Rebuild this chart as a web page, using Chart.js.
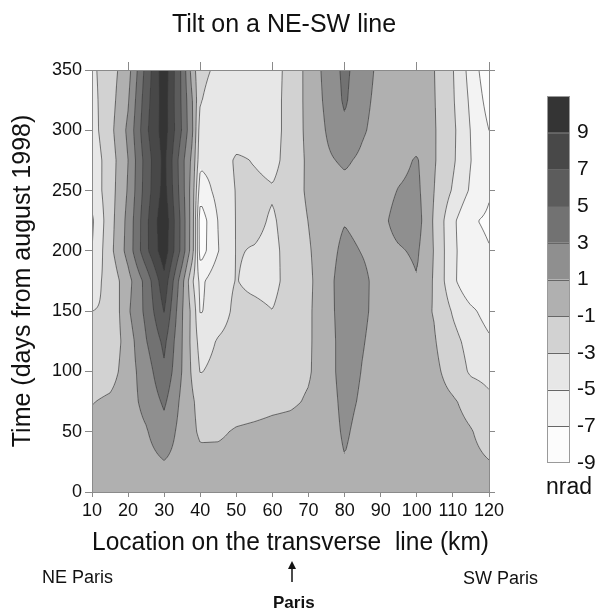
<!DOCTYPE html>
<html>
<head>
<meta charset="utf-8">
<title>Tilt on a NE-SW line</title>
<script src="https://cdn.jsdelivr.net/npm/chart.js@4.4.1/dist/chart.umd.min.js"></script>
<style>
  html, body { margin: 0; padding: 0; background: #fff; }
  #wrap { position: relative; width: 599px; height: 610px; }
</style>
</head>
<body>
<div id="wrap"><canvas id="graficoTilt"></canvas></div>
<script>
// grid nodes (km along the line, days from august 1998)
const kmNodes = [10, 15, 20, 25, 30, 35, 38, 40, 45, 50, 55, 60, 65, 70, 75, 80, 85, 90, 95, 100, 105, 110, 115, 120];
const dayNodes = [0, 25, 50, 75, 100, 125, 150, 175, 200, 225, 250, 275, 300, 325, 350];

// tilt in nrad, one row per entry of dayNodes, one value per entry of kmNodes
const tiltRows = [
  [-0.1, 0, 0, 0.1, 0, 0.1, 0, -0.1, -0.1, -0.1, -0.1, -0.1, 0, 0, 0, 0.3, 0.1, 0, 0, -0.1, -0.2, -0.25, -0.4, -0.6],
  [-0.2, 0, 0.1, 0.4, 0.95, 0.3, 0, -0.3, -0.4, -0.3, -0.2, -0.2, -0.1, 0, 0.1, 0.9, 0.2, 0.1, 0, -0.1, -0.2, -0.3, -0.6, -0.95],
  [-0.3, 0, 0.2, 0.85, 2.2, 0.26, -0.6, -1.4, -1.3, -0.8, -0.6, -0.4, -0.3, -0.1, 0, 1.3, 0.3, 0.1, 0, -0.1, -0.2, -0.4, -0.9, -1.7],
  [-1.1, -0.6, 0.3, 1.54, 3.35, 0.48, -0.8, -1.9, -2.2, -2.0, -1.8, -1.5, -1.3, -0.8, 0, 1.6, 0.69, 0.2, 0, -0.1, -0.3, -0.8, -1.6, -2.6],
  [-2.3, -1.99, 0.16, 1.99, 4.65, 0.9, -1.5, -3.1, -2.5, -2.3, -2.1, -1.9, -1.6, -1.2, 0.1, 1.9, 0.9, 0.3, 0.1, -0.3, -0.6, -1.8, -3.3, -3.6],
  [-2.7, -2.53, 0.02, 2.9, 5.5, 1.0, -1.8, -3.8, -2.85, -2.4, -2.2, -2.0, -1.6, -1.25, 0.1, 1.9, 1.1, 0.3, 0.2, -0.4, -0.9, -2.4, -3.7, -4.7],
  [-3.0, -2.86, 0.72, 3.5, 7.1, 1.1, -1.76, -5.2, -3.8, -2.6, -2.6, -2.97, -2.0, -1.3, 0.3, 1.9, 1.3, 0.4, 0.1, -0.5, -1.1, -3.2, -4.6, -5.8],
  [-3.64, -2.41, 0.3, 3.7, 8.4, 1.6, -3.0, -5.5, -3.6, -2.95, -3.4, -3.6, -2.2, -1.4, 0.3, 2.0, 1.4, 0.3, 0.1, 0.9, -1.3, -4.57, -6.7, -6.5],
  [-5.0, -1.6, 1.74, 6.5, 10.3, 4.2, -0.5, -8.0, -5.05, -2.9, -3.1, -3.4, -2.4, -1.2, 0.2, 1.5, 0.9, 0.3, 0.8, 1.3, -1.2, -4.6, -6.3, -6.9],
  [-5.3, -1.8, 1.6, 6.5, 10.6, 4.2, -0.4, -8.2, -4.9, -2.9, -2.6, -3.2, -2.3, -0.95, 0.2, 0.9, 0.4, 0.5, 1.7, 1.9, -1.4, -4.6, -6.8, -7.3],
  [-4.3, -1.9, 1.2, 6.0, 9.8, 3.8, -0.3, -6.2, -4.3, -2.9, -2.6, -2.85, -2.2, -0.6, 0.1, 0.4, 0.3, 0.2, 1.1, 1.5, -1.1, -3.2, -5.3, -6.8],
  [-4.2, -2.0, 1.0, 5.9, 9.6, 3.6, 0.2, -4.5, -4.2, -2.7, -3.1, -3.5, -2.3, -0.6, 0.7, 1.3, 0.6, 0.2, 0.4, 1.2, -0.9, -2.7, -5.0, -6.6],
  [-3.8, -1.6, 1.4, 6.6, 10.0, 4.8, 1.0, -4.0, -4.3, -4.1, -3.9, -3.6, -2.4, -0.4, 1.1, 2.6, 1.2, 0.3, 0.2, 0, -0.9, -2.6, -5.1, -7.0],
  [-3.6, -1.8, 0.8, 6.2, 10.0, 4.6, 0.8, -2.9, -3.8, -4.0, -4.0, -3.6, -2.4, -0.35, 1.4, 3.3, 1.5, 0.4, 0.2, 0, -0.95, -2.8, -5.4, -7.8],
  [-3.4, -1.9, 0.23, 5.7, 10.3, 4.5, -0.2, -2.6, -3.3, -3.9, -4.0, -3.6, -2.5, -0.3, 1.6, 3.5, 1.8, 0.5, 0.2, -0.2, -1.0, -2.9, -5.8, -8.5]
];

// contour levels and fill colours (lowest band first)
const levels = [-9, -7, -5, -3, -1, 1, 3, 5, 7, 9, 11];
const bandColors = ['#fcfcfc', '#f3f3f3', '#e7e7e7', '#d2d2d2', '#b0b0b0', '#8f8f8f', '#727272', '#5c5c5c', '#484848', '#343434'];
const colorbarLabels = [9, 7, 5, 3, 1, -1, -3, -5, -7, -9];
const topTicks = [20, 40, 60, 80, 100, 120];

const FONT = '"Liberation Sans", Arial, Helvetica, sans-serif';
Chart.defaults.font.family = FONT;
Chart.defaults.color = '#111';

function findCell(nodes, v) {
  let i = 0;
  while (i < nodes.length - 2 && v > nodes[i + 1]) i++;
  let t = (v - nodes[i]) / (nodes[i + 1] - nodes[i]);
  return [i, Math.max(0, Math.min(1, t))];
}

// bilinear value between the grid nodes
function tiltAt(km, day) {
  const [i, tx] = findCell(kmNodes, km);
  const [j, ty] = findCell(dayNodes, day);
  const r0 = tiltRows[j], r1 = tiltRows[j + 1];
  const a = r0[i] * (1 - tx) + r0[i + 1] * tx;
  const b = r1[i] * (1 - tx) + r1[i + 1] * tx;
  return a * (1 - ty) + b * ty;
}

function bandOf(v) {
  let b = Math.floor((v - levels[0]) / 2);
  return Math.max(0, Math.min(bandColors.length - 1, b));
}

const contourPlugin = {
  id: 'contour',
  beforeDraw(chart) {
    const { ctx, chartArea: a, scales: { x, y } } = chart;
    const L = Math.round(a.left), R = Math.round(a.right);
    const T = Math.round(a.top), B = Math.round(a.bottom);
    const kmCol = [];
    for (let px = L; px < R; px++) kmCol.push(x.getValueForPixel(px + 0.5));

    ctx.save();
    // filled bands
    for (let py = T; py < B; py++) {
      const day = y.getValueForPixel(py + 0.5);
      let start = L, cur = bandOf(tiltAt(kmCol[0], day));
      for (let px = L + 1; px <= R; px++) {
        const b = px < R ? bandOf(tiltAt(kmCol[px - L], day)) : -1;
        if (b !== cur) {
          ctx.fillStyle = bandColors[cur];
          ctx.fillRect(start, py, px - start, 1);
          start = px; cur = b;
        }
      }
    }

    // contour lines (marching squares on a fine pixel grid)
    const step = 2;
    const cols = Math.ceil((R - L) / step) + 1;
    const rows = Math.ceil((B - T) / step) + 1;
    const gx = i => Math.min(L + i * step, R);
    const gy = j => Math.min(T + j * step, B);
    const g = [];
    for (let j = 0; j < rows; j++) {
      const day = y.getValueForPixel(gy(j));
      const row = [];
      for (let i = 0; i < cols; i++) row.push(tiltAt(x.getValueForPixel(gx(i)), day));
      g.push(row);
    }
    ctx.beginPath();
    ctx.rect(L, T, R - L, B - T);
    ctx.clip();
    ctx.strokeStyle = 'rgba(60,60,60,0.75)';
    ctx.lineWidth = 0.9;
    for (const lev of levels) {
      ctx.beginPath();
      for (let j = 0; j < rows - 1; j++) {
        for (let i = 0; i < cols - 1; i++) {
          const x0 = gx(i), x1 = gx(i + 1), y0 = gy(j), y1 = gy(j + 1);
          const tl = g[j][i], tr = g[j][i + 1], br = g[j + 1][i + 1], bl = g[j + 1][i];
          const pts = [];
          if ((tl < lev) !== (tr < lev)) pts.push([x0 + (x1 - x0) * (lev - tl) / (tr - tl), y0]);
          if ((tr < lev) !== (br < lev)) pts.push([x1, y0 + (y1 - y0) * (lev - tr) / (br - tr)]);
          if ((bl < lev) !== (br < lev)) pts.push([x0 + (x1 - x0) * (lev - bl) / (br - bl), y1]);
          if ((tl < lev) !== (bl < lev)) pts.push([x0, y0 + (y1 - y0) * (lev - tl) / (bl - tl)]);
          for (let k = 0; k + 1 < pts.length; k += 2) {
            ctx.moveTo(pts[k][0], pts[k][1]);
            ctx.lineTo(pts[k + 1][0], pts[k + 1][1]);
          }
        }
      }
      ctx.stroke();
    }
    ctx.restore();
  },
  afterDraw(chart) {
    const { ctx } = chart;
    ctx.save();
    ctx.fillStyle = '#111';

    // title
    ctx.font = '25px ' + FONT;
    ctx.textAlign = 'center';
    ctx.textBaseline = 'alphabetic';
    ctx.fillText('Tilt on a NE-SW line', 284, 32);

    // colour bar
    const cb = { left: 547, right: 570, top: 96, bottom: 463 };
    const n = bandColors.length;
    const h = (cb.bottom - cb.top) / n;
    for (let k = 0; k < n; k++) {
      ctx.fillStyle = bandColors[k];
      ctx.fillRect(cb.left, cb.bottom - (k + 1) * h, cb.right - cb.left, h);
    }
    ctx.strokeStyle = '#666';
    ctx.lineWidth = 1;
    ctx.beginPath();
    for (let k = 1; k < n; k++) {
      const yy = Math.round(cb.bottom - k * h) + 0.5;
      ctx.moveTo(cb.left, yy);
      ctx.lineTo(cb.right, yy);
    }
    ctx.stroke();
    ctx.strokeStyle = '#9a9a9a';
    ctx.strokeRect(cb.left + 0.5, cb.top + 0.5, cb.right - cb.left - 1, cb.bottom - cb.top - 1);

    ctx.fillStyle = '#111';
    ctx.font = '21px ' + FONT;
    ctx.textAlign = 'left';
    ctx.textBaseline = 'middle';
    const span = levels[levels.length - 1] - levels[0];
    colorbarLabels.forEach(v => {
      const yy = cb.bottom - (v - levels[0]) / span * (cb.bottom - cb.top);
      ctx.fillText(String(v), 577, yy);
    });
    ctx.font = '23px ' + FONT;
    ctx.textBaseline = 'alphabetic';
    ctx.fillText('nrad', 546, 494);

    // ends of the line and Paris marker
    ctx.font = '18px ' + FONT;
    ctx.fillText('NE Paris', 42, 583);
    ctx.fillText('SW Paris', 463, 584);
    ctx.font = 'bold 17px ' + FONT;
    ctx.fillText('Paris', 273, 608);

    ctx.strokeStyle = '#111';
    ctx.lineWidth = 1.5;
    ctx.beginPath();
    ctx.moveTo(292, 582);
    ctx.lineTo(292, 567);
    ctx.stroke();
    ctx.beginPath();
    ctx.moveTo(292, 561);
    ctx.lineTo(288, 569);
    ctx.lineTo(296, 569);
    ctx.closePath();
    ctx.fill();
    ctx.restore();
  }
};

const axisGray = '#8a8a8a';

new Chart(document.getElementById('graficoTilt').getContext('2d'), {
  type: 'scatter',
  data: { datasets: [] },
  options: {
    responsive: true,
    maintainAspectRatio: false,
    animation: false,
    layout: { padding: 0 },
    plugins: {
      legend: { display: false },
      title: { display: false },
      tooltip: { enabled: false }
    },
    scales: {
      x: {
        type: 'linear', position: 'bottom', min: 10, max: 120,
        ticks: { stepSize: 10, autoSkip: false, maxRotation: 0, padding: 3, font: { size: 18 }, color: '#111' },
        grid: { drawOnChartArea: false, drawTicks: true, tickLength: 5, color: axisGray },
        border: { color: axisGray },
        title: { display: true, text: 'Location on the transverse  line (km)', font: { size: 25 }, color: '#111', padding: { top: 0, bottom: 52 } },
        afterFit: s => { s.height = 118; }
      },
      x2: {
        type: 'linear', position: 'top', min: 10, max: 120,
        ticks: { display: false },
        grid: { drawOnChartArea: false, drawTicks: true, tickLength: 8, color: axisGray },
        border: { color: axisGray },
        afterBuildTicks: s => { s.ticks = topTicks.map(v => ({ value: v })); },
        afterFit: s => { s.height = 70; }
      },
      y: {
        type: 'linear', position: 'left', min: 0, max: 350,
        ticks: { stepSize: 50, padding: 3, font: { size: 18 }, color: '#111' },
        grid: { drawOnChartArea: false, drawTicks: true, tickLength: 7, color: axisGray },
        border: { color: axisGray },
        title: { display: true, text: 'Time (days from august 1998)', font: { size: 25 }, color: '#111', padding: { top: 8, bottom: 0 } },
        afterFit: s => { s.width = 92; }
      },
      y2: {
        type: 'linear', position: 'right', min: 0, max: 350,
        ticks: { display: false, stepSize: 50 },
        grid: { drawOnChartArea: false, drawTicks: true, tickLength: 6, color: axisGray },
        border: { color: axisGray },
        afterFit: s => { s.width = 110; }
      }
    }
  },
  plugins: [contourPlugin]
});
</script>
</body>
</html>
